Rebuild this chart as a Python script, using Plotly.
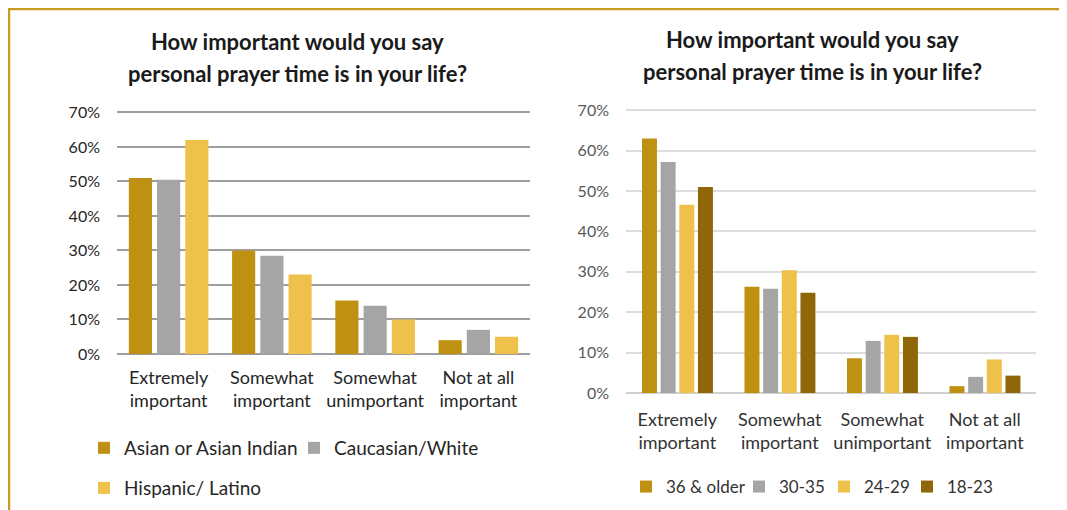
import plotly.graph_objects as go

categories = ["Extremely<br>important", "Somewhat<br>important", "Somewhat<br>unimportant", "Not at all<br>important"]

# Left chart: by ethnicity (%)
eth_names = ["Asian or Asian Indian", "Caucasian/White", "Hispanic/ Latino"]
asian = [51, 30, 15.5, 4]
caucasian = [50.5, 28.5, 14, 7]
hispanic = [62, 23, 10, 5]

# Right chart: by age (%)
age_names = ["36 & older", "30-35", "24-29", "18-23"]
age_36 = [63, 26.3, 8.6, 1.7]
age_30 = [57.2, 25.8, 12.9, 4.0]
age_24 = [46.6, 30.4, 14.4, 8.3]
age_18 = [51, 24.8, 13.9, 4.3]

tick_vals = [0, 10, 20, 30, 40, 50, 60, 70]
tick_labels = ["0%", "10%", "20%", "30%", "40%", "50%", "60%", "70%"]

title_line1 = "How important would you say"
title_line2 = "personal prayer time is in your life?"

c_dark = "#BF9112"
c_grey = "#A5A5A5"
c_light = "#EEC14A"
c_brown = "#8F6708"

FONT = "Lato, 'Open Sans', sans-serif"

# page has an 8px body margin; figure sized to fit the window
OFF = 8
W, H = 1067 - OFF, 510 - OFF

def px_x(p):
    return (p - OFF) / W

def px_y(p):
    return 1 - (p - OFF) / H

# bar geometry for the right chart (fraction of a category slot)
R_BAR_W = 0.146
R_STEP = 0.182
R_START = -0.344

fig = go.Figure()

left_series = [asian, caucasian, hispanic]
left_colors = [c_dark, c_grey, c_light]
left_legends = ["legend", "legend3", "legend4"]
for name, vals, col, lg in zip(eth_names, left_series, left_colors, left_legends):
    fig.add_trace(go.Bar(x=categories, y=vals, name=name, marker_color=col,
                         marker_line_width=0, xaxis="x", yaxis="y", legend=lg,
                         showlegend=True, hoverinfo="y+name"))

right_series = [age_36, age_30, age_24, age_18]
right_colors = [c_dark, c_grey, c_light, c_brown]
right_legends = ["legend2", "legend5", "legend6", "legend7"]
for i, (name, vals, col, lg) in enumerate(zip(age_names, right_series, right_colors, right_legends)):
    fig.add_trace(go.Bar(x=categories, y=vals, name=name, marker_color=col,
                         marker_line_width=0, xaxis="x2", yaxis="y2", legend=lg,
                         width=R_BAR_W, offset=R_START + i * R_STEP,
                         showlegend=True, hoverinfo="y+name"))

def leg(swatch_left, center_y, size, color):
    return dict(orientation="h", x=px_x(swatch_left - 14), y=px_y(center_y - size),
                xanchor="left", yanchor="top", font=dict(size=size, color=color),
                bgcolor="rgba(0,0,0,0)", visible=True)

def title_ann(text, cx, cy):
    return dict(text="<b>" + text + "</b>", x=px_x(cx), y=px_y(cy), xref="paper", yref="paper",
                xanchor="center", yanchor="middle", showarrow=False,
                font=dict(size=22, color="#1a1a1a", family=FONT))

fig.update_layout(
    width=W, height=H,
    showlegend=True,
    margin=dict(l=0, r=0, t=0, b=0, autoexpand=False),
    paper_bgcolor="white", plot_bgcolor="white",
    font=dict(family=FONT, color="#262626"),
    barmode="group",
    bargap=0.18, bargroupgap=0.18,
    xaxis=dict(domain=[px_x(117), px_x(530)], anchor="y", showgrid=False,
               tickfont=dict(size=18, color="#262626"), ticklabelstandoff=11,
               showline=False, ticks=""),
    yaxis=dict(domain=[px_y(354), px_y(111)], anchor="x", range=[0, 70.4],
               tickvals=tick_vals, ticktext=tick_labels, showgrid=True,
               gridcolor="#9E9E9E", gridwidth=2, zeroline=True,
               zerolinecolor="#9E9E9E", zerolinewidth=2,
               tickfont=dict(size=16, color="#262626"), ticklabelstandoff=16),
    xaxis2=dict(domain=[px_x(626), px_x(1036)], anchor="y2", showgrid=False,
                tickfont=dict(size=18, color="#333333"), ticklabelstandoff=14,
                ticks=""),
    yaxis2=dict(domain=[px_y(393), px_y(109)], anchor="x2", range=[0, 70.3],
                tickvals=tick_vals, ticktext=tick_labels, showgrid=True,
                gridcolor="#DDDDDD", gridwidth=1.5, zeroline=True,
                zerolinecolor="#D0D0D0", zerolinewidth=1.5,
                tickfont=dict(size=16, color="#595959"), ticklabelstandoff=16),
    legend=leg(98, 448, 19, "#262626"),
    legend3=leg(308, 448, 19, "#262626"),
    legend4=leg(98, 488, 19, "#262626"),
    legend2=leg(640, 486, 17, "#333333"),
    legend5=leg(753, 486, 17, "#333333"),
    legend6=leg(838, 486, 17, "#333333"),
    legend7=leg(921, 486, 17, "#333333"),
    annotations=[
        title_ann(title_line1, 297, 42),
        title_ann(title_line2, 297, 73),
        title_ann(title_line1, 812, 40),
        title_ann(title_line2, 812, 71),
    ],
    shapes=[
        dict(type="line", xref="paper", yref="paper", x0=px_x(8), x1=1, y0=px_y(9), y1=px_y(9),
             line=dict(color="#C79C1E", width=2.5)),
        dict(type="line", xref="paper", yref="paper", x0=px_x(9), x1=px_x(9), y0=0, y1=px_y(8),
             line=dict(color="#C79C1E", width=2.5)),
    ],
)

fig.write_html("out.html")
